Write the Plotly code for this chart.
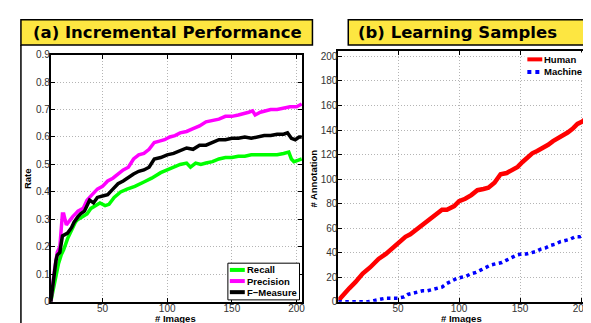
import plotly.graph_objects as go

W, H = 591, 323

# ---------------- data: (a) Incremental Performance ----------------
recall_x = [10, 12, 14, 16, 18, 20, 23, 26, 29, 31, 34, 38, 41, 44, 48, 52, 55, 59, 64, 69, 75, 82, 88, 95,
            100, 105, 110, 115, 118, 122, 126, 130, 135, 140, 145, 150, 155, 160, 165, 170, 175, 180, 185,
            190, 194, 196, 198, 201, 204]
recall_y = [0, 0.05, 0.10, 0.14, 0.17, 0.19, 0.23, 0.26, 0.29, 0.30, 0.31, 0.32, 0.34, 0.35, 0.36, 0.35, 0.355,
            0.38, 0.40, 0.41, 0.42, 0.436, 0.45, 0.47, 0.48, 0.49, 0.50, 0.505, 0.49, 0.505, 0.50, 0.505, 0.51,
            0.52, 0.525, 0.525, 0.53, 0.53, 0.535, 0.535, 0.535, 0.538, 0.535, 0.54, 0.545, 0.52, 0.51, 0.515, 0.52]

precision_x = [10, 12, 13, 15, 17, 19, 20, 22, 25, 27, 29, 31, 35, 38, 42, 46, 50, 54, 58, 62, 66, 70, 74, 78,
               82, 86, 90, 94, 98, 102, 106, 110, 115, 120, 125, 130, 135, 140, 145, 150, 155, 160, 163, 166,
               168, 172, 176, 180, 185, 190, 195, 200, 204]
precision_y = [0, 0.10, 0.12, 0.18, 0.20, 0.32, 0.32, 0.28, 0.30, 0.31, 0.32, 0.33, 0.34, 0.37, 0.39, 0.41, 0.42,
               0.44, 0.45, 0.465, 0.48, 0.49, 0.52, 0.535, 0.54, 0.555, 0.58, 0.585, 0.59, 0.60, 0.605, 0.615,
               0.62, 0.63, 0.64, 0.655, 0.66, 0.665, 0.675, 0.675, 0.68, 0.685, 0.69, 0.695, 0.68, 0.69, 0.695,
               0.70, 0.70, 0.705, 0.71, 0.71, 0.72]

fmeasure_x = [10, 12, 14, 15, 17, 19, 21, 23, 26, 28, 31, 33, 36, 38, 40, 43, 46, 50, 54, 58, 62, 66, 70, 74,
              78, 82, 86, 90, 95, 100, 105, 110, 115, 120, 125, 130, 135, 140, 145, 150, 155, 160, 165, 170,
              175, 180, 185, 190, 193, 196, 199, 202, 204]
fmeasure_y = [0, 0.08, 0.15, 0.17, 0.18, 0.24, 0.245, 0.25, 0.27, 0.29, 0.31, 0.32, 0.33, 0.35, 0.37, 0.36, 0.38,
              0.385, 0.39, 0.41, 0.43, 0.44, 0.454, 0.465, 0.475, 0.48, 0.49, 0.52, 0.525, 0.535, 0.54, 0.55,
              0.56, 0.555, 0.57, 0.57, 0.58, 0.59, 0.59, 0.595, 0.595, 0.60, 0.595, 0.60, 0.605, 0.605, 0.61,
              0.61, 0.615, 0.595, 0.59, 0.60, 0.60]

# ---------------- data: (b) Learning Samples ----------------
human_x = [1, 5, 10, 15, 21, 27, 34, 40, 48, 53, 56, 60, 64, 68, 72, 76, 80, 86, 90, 96, 100, 105, 110, 115,
           120, 124, 129, 134, 139, 143, 148, 152, 156, 160, 164, 168, 173, 177, 181, 185, 189, 193, 197, 201, 205]
human_y = [1, 6, 11, 16, 23, 28, 35, 39, 46, 51, 53, 55, 58, 62, 65, 67, 70, 75, 75, 78, 82, 84, 87, 91,
           92, 93, 97, 104, 105, 107, 110, 114, 118, 121, 123, 125, 128, 131, 133, 135, 138, 141, 145, 147, 150]

machine_x = [1, 10, 20, 25, 30, 35, 40, 45, 50, 55, 58, 62, 66, 70, 74, 78, 82, 86, 90, 94, 98, 102, 106, 110,
             114, 118, 122, 126, 130, 135, 139, 143, 147, 151, 155, 159, 163, 167, 171, 175, 179, 183, 187, 191,
             195, 199, 203, 205]
machine_y = [0, 0, 0, 0, 1, 2, 3, 3, 3, 4, 6, 7, 8, 9, 9, 10, 11, 12, 15, 17, 19, 20, 21, 23,
             24, 26, 28, 30, 31, 32, 34, 36, 38, 39, 39, 40, 41, 43, 44, 46, 47, 49, 50, 51,
             53, 53, 55, 56]

titles = ["(a) Incremental Performance", "(b) Learning Samples"]
xlabels = ["# Images", "# Images"]
ylabels = ["Rate", "# Annotation"]
a_yticks = [0, 0.1, 0.2, 0.3, 0.4, 0.5, 0.6, 0.7, 0.8, 0.9]
b_yticks = [0, 20, 40, 60, 80, 100, 120, 140, 160, 180, 200]
xticks = [50, 100, 150, 200]


def px(x):
    return x / W


def py(y):
    return 1 - y / H


fig = go.Figure()
fig.add_trace(go.Scatter(x=recall_x, y=recall_y, name="Recall", mode="lines",
                         line=dict(color="#00ff00", width=3.5), xaxis="x", yaxis="y"))
fig.add_trace(go.Scatter(x=precision_x, y=precision_y, name="Precision", mode="lines",
                         line=dict(color="#ff00ff", width=3.5), xaxis="x", yaxis="y"))
fig.add_trace(go.Scatter(x=fmeasure_x, y=fmeasure_y, name="F\u2212Measure", mode="lines",
                         line=dict(color="#000000", width=3.5), xaxis="x", yaxis="y"))
fig.add_trace(go.Scatter(x=human_x, y=human_y, name="Human", mode="lines",
                         line=dict(color="#ff0000", width=4.5), xaxis="x2", yaxis="y2"))
fig.add_trace(go.Scatter(x=machine_x, y=machine_y, name="Machine", mode="lines",
                         line=dict(color="#0000ff", width=3.5, dash="dot"), xaxis="x2", yaxis="y2"))

tickfont = dict(family="Liberation Sans, Arial, sans-serif", size=10, color="#333333")
common = dict(showline=True, linecolor="black", linewidth=2, mirror="ticks", ticks="inside", ticklen=4,
              tickcolor="black", tickwidth=1, showgrid=True, gridcolor="#b4b4b4", griddash="1px,2px",
              gridwidth=1, zeroline=False, tickfont=tickfont)

fig.update_layout(
    width=W, height=H, margin=dict(l=0, r=0, t=0, b=0),
    paper_bgcolor="white", plot_bgcolor="white", showlegend=False,
    xaxis=dict(domain=[px(43), px(296)], range=[10, 204.6], tickvals=xticks, anchor="y",
               ticklabelstandoff=-4, **common),
    yaxis=dict(domain=[py(299), py(43)], range=[0, 0.9], tickvals=a_yticks, anchor="x",
               ticklabelstandoff=-3, **common),
    xaxis2=dict(domain=[px(332), px(583)], range=[1, 205.7], tickvals=xticks, anchor="y2",
                ticklabelstandoff=-4, **common),
    yaxis2=dict(domain=[py(299), py(39)], range=[0, 204.7], tickvals=b_yticks, anchor="x2",
                ticklabelstandoff=-3, **common),
)

shapes = []
annots = []
# outer frame side lines
shapes.append(dict(type="line", xref="paper", yref="paper", x0=px(13), x1=px(13), y0=py(33), y1=py(330),
                   line=dict(color="black", width=1.5)))
shapes.append(dict(type="line", xref="paper", yref="paper", x0=px(589.5), x1=px(589.5), y0=py(33), y1=py(330),
                   line=dict(color="black", width=1.5)))
# title boxes
boxes = [(13, 306), (342, 590)]
for (x0, x1), t in zip(boxes, titles):
    shapes.append(dict(type="rect", xref="paper", yref="paper", x0=px(x0), x1=px(x1), y0=py(33), y1=py(7),
                       fillcolor="#fde641", line=dict(color="black", width=1.5), layer="below"))
cent = [160, 452]
for c, t in zip(cent, titles):
    annots.append(dict(text="<b>%s</b>" % t, xref="paper", yref="paper", x=px(c), y=py(20.5),
                       xanchor="center", yanchor="middle", showarrow=False,
                       font=dict(family="DejaVu Sans", size=16.5, color="black")))

lab_font = dict(family="Liberation Sans, Arial, sans-serif", size=9.5, color="black")
# x axis titles
for c, t in zip([168, 456], xlabels):
    annots.append(dict(text="<b>%s</b>" % t, xref="paper", yref="paper", x=px(c), y=py(316.5),
                       xanchor="center", yanchor="middle", showarrow=False, font=lab_font))
# y axis titles
for c, t in zip([19, 307], ylabels):
    annots.append(dict(text="<b>%s</b>" % t, xref="paper", yref="paper", x=px(c), y=py(171),
                       xanchor="center", yanchor="middle", showarrow=False, textangle=-90, font=lab_font))

# legend (a)
shapes.append(dict(type="rect", xref="paper", yref="paper", x0=px(221), x1=px(293), y0=py(297), y1=py(259),
                   fillcolor="white", line=dict(color="black", width=1)))
leg_font = dict(family="Liberation Sans, Arial, sans-serif", size=9.5, color="black")
for tr, yy in zip(fig.data[:3], [266, 277.5, 289]):
    shapes.append(dict(type="line", xref="paper", yref="paper", x0=px(223), x1=px(238), y0=py(yy), y1=py(yy),
                       line=dict(color=tr.line.color, width=4)))
    annots.append(dict(text="<b>%s</b>" % tr.name, xref="paper", yref="paper", x=px(238), y=py(yy),
                       xanchor="left", yanchor="middle", showarrow=False, font=leg_font))
# legend (b)
shapes.append(dict(type="rect", xref="paper", yref="paper", x0=px(519), x1=px(581), y0=py(68), y1=py(41),
                   fillcolor="white", line=dict(color="white", width=0)))
for tr, yy in zip(fig.data[3:], [48, 61]):
    shapes.append(dict(type="line", xref="paper", yref="paper", x0=px(522), x1=px(537), y0=py(yy), y1=py(yy),
                       line=dict(color=tr.line.color, width=4, dash="dot" if tr.line.dash else "solid")))
    annots.append(dict(text="<b>%s</b>" % tr.name, xref="paper", yref="paper", x=px(537), y=py(yy),
                       xanchor="left", yanchor="middle", showarrow=False, font=leg_font))

fig.update_layout(shapes=shapes, annotations=annots)
fig.write_html("out.html")
